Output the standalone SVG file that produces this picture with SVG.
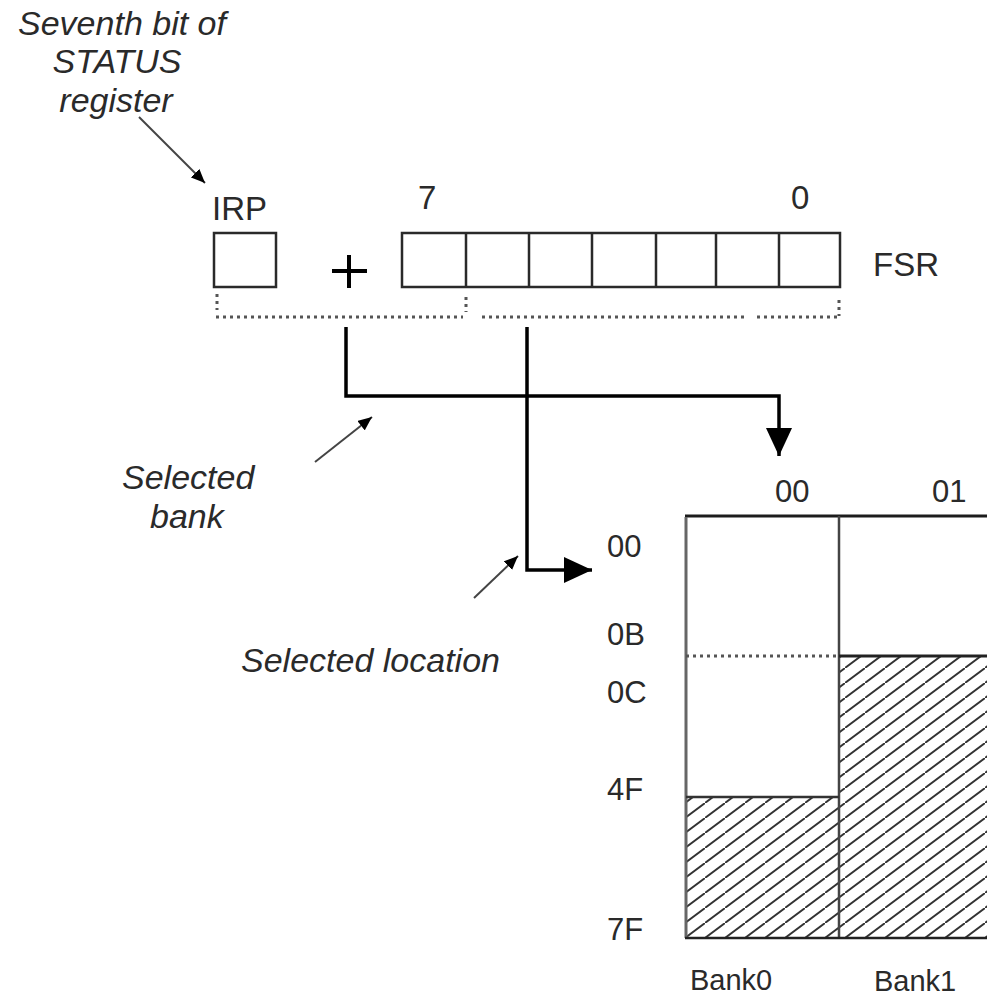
<svg xmlns="http://www.w3.org/2000/svg" width="987" height="997" viewBox="0 0 987 997">
<style>
text{font-family:"Liberation Sans",Arial,sans-serif;fill:#2a2a2a}
.it{font-style:italic;font-size:34px}
.lbl{font-size:33px}
.mem{font-size:31px}
.bank{font-size:29px}
.box{fill:#fff;stroke:#2a2a2a;stroke-width:2.5}
.conn{fill:none;stroke:#000;stroke-width:3.5}
.thin{fill:none;stroke:#444;stroke-width:2}
.dot{fill:none;stroke:#555;stroke-width:3;stroke-dasharray:3,4}
</style>
<defs>
<marker id="big" viewBox="0 0 28 26" refX="28" refY="13" markerWidth="28" markerHeight="26" markerUnits="userSpaceOnUse" orient="auto">
<path d="M0,0 L28,13 L0,26 z" fill="#000"/>
</marker>
<marker id="small" viewBox="0 0 14 12" refX="14" refY="6" markerWidth="14" markerHeight="12" markerUnits="userSpaceOnUse" orient="auto">
<path d="M0,0 L14,6 L0,12 z" fill="#000"/>
</marker>
<pattern id="hatch" patternUnits="userSpaceOnUse" width="20" height="15" x="685" y="938">
<line x1="-2" y1="16.5" x2="22" y2="-1.5" stroke="#333" stroke-width="1.9"/>
</pattern>
</defs>

<g id="status-note">
<text class="it" x="122" y="35" text-anchor="middle">Seventh bit of</text>
<text class="it" x="117" y="73" text-anchor="middle">STATUS</text>
<text class="it" x="116" y="112" text-anchor="middle">register</text>
</g>

<g id="irp">
<text class="lbl" x="212" y="220">IRP</text>
<rect class="box" x="214" y="233" width="62" height="54"/>
</g>

<g id="plus">
<path d="M332,271 H367 M349,255 V288" stroke="#000" stroke-width="4" fill="none"/>
</g>

<g id="fsr">
<text class="lbl" x="418" y="209">7</text>
<text class="lbl" x="791" y="209">0</text>
<rect class="box" x="402" y="233" width="438" height="54"/>
<path d="M466,233 V287 M529,233 V287 M592,233 V287 M656,233 V287 M716,233 V287 M779,233 V287" stroke="#2a2a2a" stroke-width="2.5" fill="none"/>
<text class="lbl" x="873" y="276">FSR</text>
</g>

<g id="bracket">
<path class="dot" d="M216,317 H463 M482,317 H745 M757,317 H838"/>
<path class="dot" d="M217,294 V310 M466,297 V312 M839,300 V316"/>
</g>

<g id="selected-bank-note">
<text class="it" x="122" y="489">Selected</text>
<text class="it" x="150" y="528">bank</text>
</g>

<g id="selected-location-note">
<text class="it" x="241" y="672">Selected location</text>
</g>

<g id="memory">
<rect x="839" y="656" width="148" height="282" fill="url(#hatch)"/>
<rect x="685" y="797" width="154" height="141" fill="url(#hatch)"/>
<path d="M685,516 H987" stroke="#1c1c1c" stroke-width="3" fill="none"/>
<path d="M686,517 V938" stroke="#666" stroke-width="3" fill="none"/>
<path d="M839,516 V938" stroke="#444" stroke-width="2.5" fill="none"/>
<path class="dot" d="M686,656 H839" stroke="#222"/>
<path d="M839,656 H987" stroke="#222" stroke-width="3" fill="none"/>
<path d="M686,797 H839" stroke="#333" stroke-width="2.5" fill="none"/>
<path d="M685,938 H987" stroke="#222" stroke-width="2.5" fill="none"/>
<text class="mem" x="775" y="502">00</text>
<text class="mem" x="932" y="502">01</text>
<text class="mem" x="607" y="557">00</text>
<text class="mem" x="607" y="645">0B</text>
<text class="mem" x="607" y="703">0C</text>
<text class="mem" x="607" y="800">4F</text>
<text class="mem" x="607" y="940">7F</text>
<text class="bank" x="690" y="990">Bank0</text>
<text class="bank" x="874" y="991">Bank1</text>
</g>

<g id="connectors">
<path class="conn" d="M346,327 V396 H779 V456" marker-end="url(#big)"/>
<path class="conn" d="M527,327 V570 H592" marker-end="url(#big)"/>
<path class="thin" d="M139,117 L205,183" marker-end="url(#small)"/>
<path class="thin" d="M315,462 L372,417" marker-end="url(#small)"/>
<path class="thin" d="M474,598 L518,556" marker-end="url(#small)"/>
</g>
</svg>
